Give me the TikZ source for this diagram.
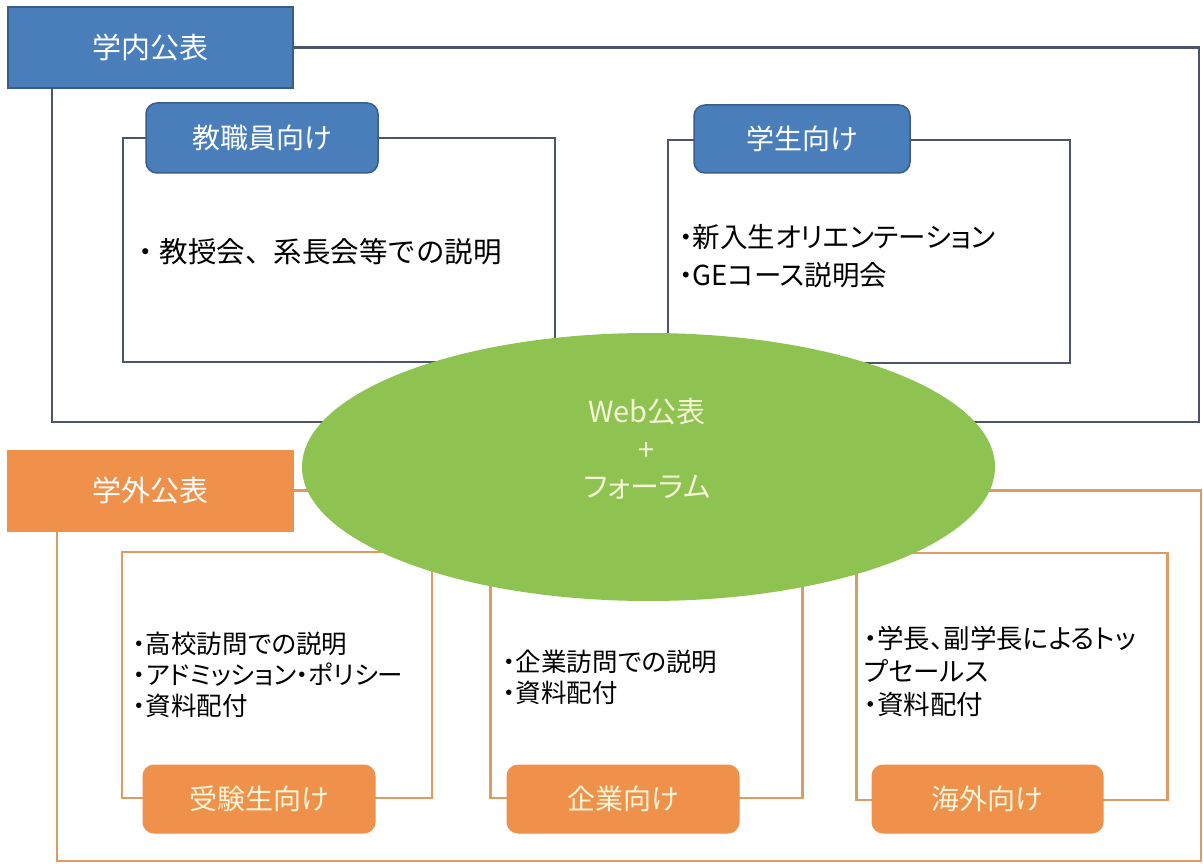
\documentclass[tikz,border=0pt]{standalone}
\usepackage{fontspec}
\setmainfont{Noto Sans CJK JP}
\newfontfamily\jpp{Noto Sans CJK JP}[RawFeature=+palt]
\usetikzlibrary{shapes.geometric}
\definecolor{bfill}{RGB}{74,126,187}
\definecolor{bdraw}{RGB}{56,93,138}
\definecolor{bline}{RGB}{75,85,105}
\definecolor{ofill}{RGB}{240,145,75}
\definecolor{oline}{RGB}{222,155,100}
\definecolor{gfill}{RGB}{142,195,82}
\definecolor{etext}{RGB}{245,245,215}
\tikzset{
  bluetitle/.style={rectangle,fill=bfill,draw=bdraw,line width=1.5pt,text=white,font=\jpp\fontsize{29}{34}\selectfont,inner sep=0pt},
  bluetab/.style={rectangle,rounded corners=11pt,fill=bfill,draw=bdraw,line width=1.5pt,text=white,font=\jpp\fontsize{28}{34}\selectfont,inner sep=0pt},
  orangetitle/.style={rectangle,fill=ofill,draw=ofill,line width=1pt,text=white,font=\jpp\fontsize{29}{34}\selectfont,inner sep=0pt},
  orangetab/.style={rectangle,rounded corners=11pt,fill=ofill,draw=ofill,line width=1pt,text=etext,font=\jpp\fontsize{28}{34}\selectfont,inner sep=0pt},
  blueframe/.style={rectangle,draw=bline,line width=2.2pt,fill=white,inner sep=0pt},
  orangeframe/.style={rectangle,draw=oline,line width=2.2pt,fill=white,inner sep=0pt},
  bline/.style={draw=bline,line width=2.2pt},
  oline/.style={draw=oline,line width=2.2pt},
  toptext/.style={anchor=west,align=left,inner sep=0pt,font=\fontsize{28.5}{38}\selectfont},
  bottext/.style={anchor=west,align=left,inner sep=0pt,font=\jpp\fontsize{25.5}{31}\selectfont},
}
\begin{document}
\begin{tikzpicture}[x=1pt,y=-1pt]
\useasboundingbox (0,0) rectangle (1203,864);
\fill[white] (0,0) rectangle (1203,864);

% ---- inner (blue) section ----
\node[bluetitle,minimum width=285pt,minimum height=81pt] (t1) at (150.5,47.5) {学内公表};
\coordinate (b1) at (1199,47.5);
\coordinate (b2) at (1199,422);
\coordinate (b3) at (52,422);
\draw[bline] (t1.east) -- (b1) -- (b2) -- (b3) -- (t1.south -| b3);

\node[blueframe,minimum width=432pt,minimum height=224pt] (f1) at (339,250) {};
\node[bluetab,minimum width=232pt,minimum height=70pt] (tab1) at (262,138) {教職員向け};
\node[toptext] (x1) at (131,252) {・教授会、系長会等での説明};

\node[blueframe,minimum width=402pt,minimum height=223pt] (f2) at (869,251.5) {};
\node[bluetab,minimum width=216pt,minimum height=68pt] (tab2) at (802,139) {学生向け};
\node[toptext,font=\jpp\fontsize{27.5}{38}\selectfont] (x2) at (679,256) {・新入生オリエンテーション\\・GEコース説明会};

% ---- outer (orange) section ----
\node[orangetitle,minimum width=286pt,minimum height=81pt] (t2) at (150,490.5) {学外公表};
\coordinate (o1) at (1201,490.5);
\coordinate (o2) at (1201,861);
\coordinate (o3) at (57,861);
\draw[oline] (t2.east) -- (o1) -- (o2) -- (o3) -- (t2.south -| o3);

\node[orangeframe,minimum width=310pt,minimum height=246pt] (f3) at (277,675) {};
\node[orangetab,minimum width=232pt,minimum height=68pt] (tab3) at (259,799) {受験生向け};
\node[bottext] (x3) at (133,675) {・高校訪問での説明\\・アドミッション・ポリシー\\・資料配付};

\node[orangeframe,minimum width=312pt,minimum height=246pt] (f4) at (646.5,675) {};
\node[orangetab,minimum width=232pt,minimum height=68pt] (tab4) at (623,799) {企業向け};
\node[bottext] (x4) at (503,677.5) {・企業訪問での説明\\・資料配付};

\node[orangeframe,minimum width=311pt,minimum height=247pt] (f5) at (1012,676.5) {};
\node[orangetab,minimum width=231pt,minimum height=68pt] (tab5) at (987.5,799) {海外向け};
\node[bottext,font=\jpp\fontsize{26.5}{33}\selectfont] (x5) at (864,671) {・学長、副学長によるトッ\\プセールス\\・資料配付};

% ---- ellipse ----
\node[ellipse,fill=gfill,minimum width=693pt,minimum height=268pt,inner sep=0pt] (web) at (648.5,467) {};
\node[align=center,text=etext,font=\jpp\fontsize{29}{37.5}\selectfont,inner sep=0pt] (wt) at (647,449) {Web公表\\+\\フォーラム};
\end{tikzpicture}
\end{document}
